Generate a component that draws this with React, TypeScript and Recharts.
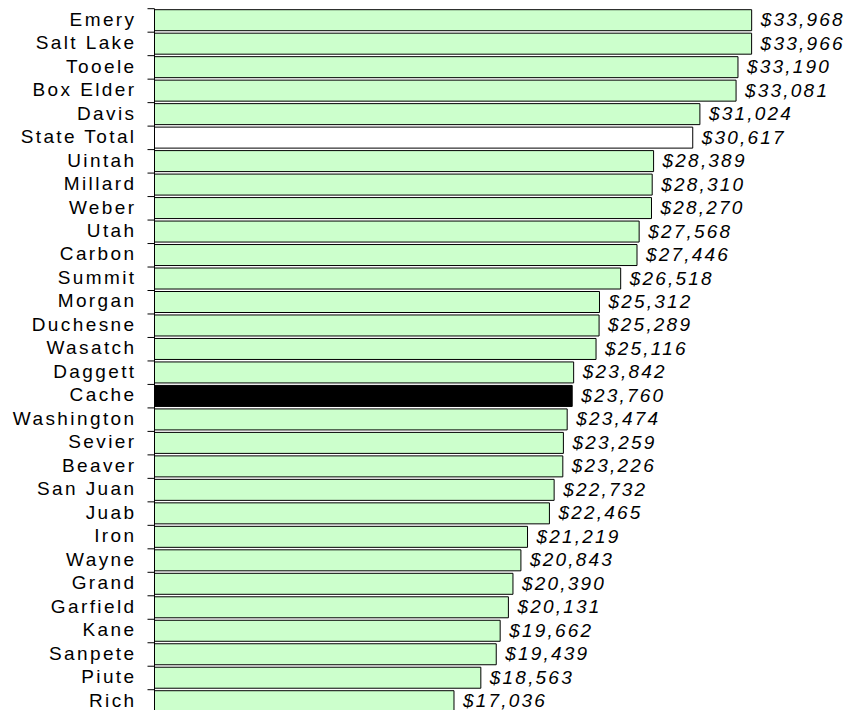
import React from 'react';
import { BarChart, Bar, XAxis, YAxis, Cell, LabelList } from 'recharts';

const counties = [
  'Emery', 'Salt Lake', 'Tooele', 'Box Elder', 'Davis', 'State Total', 'Uintah', 'Millard',
  'Weber', 'Utah', 'Carbon', 'Summit', 'Morgan', 'Duchesne', 'Wasatch', 'Daggett', 'Cache',
  'Washington', 'Sevier', 'Beaver', 'San Juan', 'Juab', 'Iron', 'Wayne', 'Grand', 'Garfield',
  'Kane', 'Sanpete', 'Piute', 'Rich',
];
const incomes = [
  33968, 33966, 33190, 33081, 31024, 30617, 28389, 28310,
  28270, 27568, 27446, 26518, 25312, 25289, 25116, 23842, 23760,
  23474, 23259, 23226, 22732, 22465, 21219, 20843, 20390, 20131,
  19662, 19439, 18563, 17036,
];
const totalName = 'State Total';
const focusName = 'Cache';

const data = counties.map((name, i) => ({ name, value: incomes[i] }));

const CHART_W = 848;
const CHART_H = 720;
const MARGIN = { top: 8.7, right: 78.2, bottom: 6.8, left: 0 };
const AXIS_W = 154.5;
const PLOT_H = CHART_H - MARGIN.top - MARGIN.bottom;
const HALF_BAND = PLOT_H / counties.length / 2;
const FONT = '"Liberation Sans", Arial, sans-serif';

const fmt = (v: number) => '$' + v.toLocaleString('en-US');

const CategoryTick = (props: any) => {
  const { x, y, payload, index } = props;
  const isLast = index === counties.length - 1;
  return (
    <g>
      <line x1={x - 7} x2={x} y1={y - HALF_BAND} y2={y - HALF_BAND} stroke="#000" strokeWidth={1} />
      {isLast && (
        <line x1={x - 7} x2={x} y1={y + HALF_BAND} y2={y + HALF_BAND} stroke="#000" strokeWidth={1} />
      )}
      <text
        x={x - 18}
        y={y + 5.2}
        textAnchor="end"
        fontFamily={FONT}
        fontSize={19}
        letterSpacing={2.4}
        fill="#000"
      >
        {payload.value}
      </text>
    </g>
  );
};

const ValueLabel = (props: any) => {
  const { x, y, width, height, value } = props;
  return (
    <text
      x={x + width + 9}
      y={y + height / 2 + 6}
      fontFamily={FONT}
      fontSize={19}
      fontStyle="italic"
      letterSpacing={2.2}
      fill="#000"
    >
      {fmt(value)}
    </text>
  );
};

export default function App() {
  return (
    <div
      style={{
        position: 'absolute',
        top: 0,
        left: 0,
        width: 848,
        height: 710,
        overflow: 'hidden',
        background: '#fff',
      }}
    >
      <BarChart
        width={CHART_W}
        height={CHART_H}
        data={data}
        layout="vertical"
        margin={MARGIN}
        barCategoryGap={1}
      >
        <XAxis type="number" domain={[0, 35000]} hide />
        <YAxis
          type="category"
          dataKey="name"
          width={AXIS_W}
          interval={0}
          tickLine={false}
          tickSize={0}
          tickMargin={0}
          axisLine={{ stroke: '#000', strokeWidth: 1 }}
          tick={<CategoryTick />}
        />
        <Bar dataKey="value" stroke="#000" strokeWidth={1} isAnimationActive={false}>
          {data.map((d) => (
            <Cell
              key={d.name}
              fill={d.name === totalName ? '#ffffff' : d.name === focusName ? '#000000' : '#ccffcc'}
            />
          ))}
          <LabelList dataKey="value" content={<ValueLabel />} />
        </Bar>
      </BarChart>
    </div>
  );
}
